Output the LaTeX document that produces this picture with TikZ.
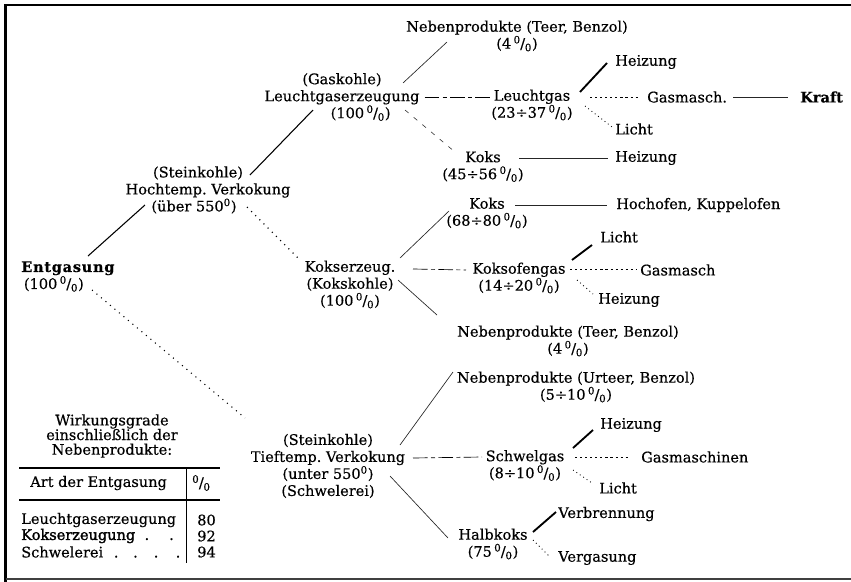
\documentclass[tikz,border=0pt]{standalone}
\usepackage{fontspec}
\setmainfont{DejaVu Serif}[FakeBold=0.5]
\newcommand\fs{\fontsize{10.9}{12.75}\selectfont}
\newcommand\prc{\textsuperscript{0}\kern-0.4pt/\kern-0.2pt\textsubscript{0}}
\begin{document}
\begin{tikzpicture}[x=0.75pt,y=-0.75pt,
  every node/.style={inner sep=0pt, font=\fs, align=center},
  lft/.style={anchor=west},
  thinln/.style={line width=0.5pt, black!85},
  midln/.style={line width=0.8pt},
  heavyln/.style={line width=1.4pt},
  dotln/.style={line width=0.8pt, dash pattern=on 0.8pt off 3.6pt},
  dotfine/.style={line width=0.6pt, dash pattern=on 0.7pt off 2.4pt},
  shortdash/.style={line width=0.5pt, dash pattern=on 1.6pt off 2.2pt},
  dashdot/.style={line width=0.5pt, dash pattern=on 11pt off 2.5pt on 3pt off 2.5pt},
  loosedash/.style={line width=0.45pt, black!80, dash pattern=on 3.5pt off 5pt},
  rule/.style={line width=1.6pt}]
\useasboundingbox (0,0) rectangle (851,582);
% frame
\draw[line width=1.9pt] (5.5,582) -- (5.5,5) -- (851,5);
\draw[line width=0.9pt, black!75] (5.5,579) -- (851,579);

% nodes
\node (ent) [lft, align=left] at (21,276.5) {{\bfseries\addfontfeature{LetterSpace=5}Entgasung}\\\hspace*{2pt}(100\,\prc)};
\node (hoch) at (208,190) {(Steinkohle)\hspace*{15pt}\\Hochtemp.\ Verkokung\\(über 550\textsuperscript{0})\hspace*{21pt}};
\node (lge) at (342,97) {(Gaskohle)\\Leuchtgaserzeugung\\\hspace*{28pt}(100\,\prc)};
\node (np1) at (517,36) {Nebenprodukte (Teer, Benzol)\\(4\,\prc)};
\node (lg) at (532,105) {Leuchtgas\\(23÷37\,\prc)};
\node (hz1) [lft] at (615,62) {Heizung};
\node (gm1) [lft] at (647,97) {Gasmasch.};
\node (kraft) [lft] at (800,97) {\bfseries Kraft};
\node (li1) [lft] at (615,129) {Licht};
\node (koks1) at (483,166.5) {Koks\\(45÷56\,\prc)};
\node (hz2) [lft] at (615,158) {Heizung};
\node (kserz) at (350,284.5) {Kokserzeug.\\(Kokskohle)\\(100\,\prc)};
\node (koks2) at (487,213) {Koks\\(68÷80\,\prc)};
\node (hochofen) [lft] at (616,205) {Hochofen, Kuppelofen};
\node (li2) [lft] at (600,237) {Licht};
\node (kog) at (519,278) {Koksofengas\\(14÷20\,\prc)};
\node (gm2) [lft] at (640,270) {Gasmasch};
\node (hz3) [lft] at (598,300) {Heizung};
\node (np2) at (568,341) {Nebenprodukte (Teer, Benzol)\\(4\,\prc)};
\node (np3) at (576,387) {Nebenprodukte (Urteer, Benzol)\\(5÷10\,\prc)};
\node (tief) at (328,466) {(Steinkohle)\\Tieftemp.\ Verkokung\\(unter 550\textsuperscript{0})\\(Schwelerei)};
\node (hz4) [lft] at (600,425) {Heizung};
\node (swg) at (525,465.5) {Schwelgas\\(8÷10\,\prc)};
\node (gm3) [lft] at (641,457) {Gasmaschinen};
\node (li3) [lft] at (599,488) {Licht};
\node (hk) at (493,544) {Halbkoks\\(75\,\prc)};
\node (vb) [lft] at (558,514) {Verbrennung};
\node (vg) [lft] at (558,558) {Vergasung};

% connectors
\draw[midln] ([shift={(67,-20.5)}]ent.west) -- ([shift={(-63,15)}]hoch.center);
\draw[dotln] ([shift={(71,13.5)}]ent.west) -- ([shift={(-83,-48)}]tief.center);
\draw[midln] ([shift={(42,-15)}]hoch.center) -- ([shift={(-29,13)}]lge.center);
\draw[dotln] ([shift={(39,17)}]hoch.center) -- ([shift={(-52,-26.5)}]kserz.center);
\draw[thinln] ([shift={(61,-14)}]lge.center) -- ([shift={(-70,6)}]np1.center);
\draw[dashdot] ([shift={(5,0)}]lge.east) -- ([shift={(-42,-8)}]lg.center);
\draw[loosedash] ([shift={(63,13)}]lge.center) -- ([shift={(-28,-14.5)}]koks1.center);
\draw[heavyln] ([shift={(48,-13)}]lg.center) -- ([shift={(-8,1)}]hz1.west);
\draw[shortdash] ([shift={(58,-8)}]lg.center) -- ([shift={(-7,0)}]gm1.west);
\draw[dotfine] ([shift={(53,1)}]lg.center) -- ([shift={(-3,-2)}]li1.west);
\draw[thinln] ([shift={(6,0)}]gm1.east) -- ([shift={(-12,0)}]kraft.west);
\draw[thinln] ([shift={(36,-8.5)}]koks1.center) -- ([shift={(-7,0)}]hz2.west);
\draw[thinln] ([shift={(28,-8)}]koks2.center) -- ([shift={(-9,0)}]hochofen.west);
\draw[thinln] ([shift={(50,-26.5)}]kserz.center) -- ([shift={(-38,-2)}]koks2.center);
\draw[dashdot] ([shift={(63,-15.5)}]kserz.center) -- ([shift={(-53,-8)}]kog.center);
\draw[thinln] ([shift={(48,-4.5)}]kserz.center) -- ([shift={(-131,-26)}]np2.center);
\draw[heavyln] ([shift={(53,-18)}]kog.center) -- ([shift={(-8,8)}]li2.west);
\draw[shortdash] ([shift={(51,-9)}]kog.center) -- ([shift={(-4,-1)}]gm2.west);
\draw[dotfine] ([shift={(58,2)}]kog.center) -- ([shift={(-5,-6)}]hz3.west);
\draw[thinln] ([shift={(72,-21)}]tief.center) -- ([shift={(-123,-15)}]np3.center);
\draw[dashdot] ([shift={(85,-8)}]tief.center) -- ([shift={(-43,-8.5)}]swg.center);
\draw[thinln] ([shift={(62,10)}]tief.center) -- ([shift={(-45,-6)}]hk.center);
\draw[heavyln] ([shift={(48,-17.5)}]swg.center) -- ([shift={(-7,5)}]hz4.west);
\draw[shortdash] ([shift={(50,-8.5)}]swg.center) -- ([shift={(-11,0)}]gm3.west);
\draw[dotfine] ([shift={(48,4.5)}]swg.center) -- ([shift={(-7,-5)}]li3.west);
\draw[heavyln] ([shift={(40,-12)}]hk.center) -- ([shift={(-2,-2)}]vb.west);
\draw[dotfine] ([shift={(40,-4)}]hk.center) -- ([shift={(-8,-1)}]vg.west);

% table
\node (wt) [font=\fontsize{10.9}{11}\selectfont] at (112,436) {Wirkungsgrade\\einschließlich der\\Nebenprodukte:};
\draw[rule] (19,468) -- (220,468);
\draw[rule] (19,500) -- (220,500);
\draw[line width=0.4pt] (186,468) -- (186,563);
\node (hdr) [lft] at (30,483) {Art der Entgasung};
\node (hpc) [lft] at (192,483) {\prc};
\node (r1) [lft] at (21,520) {Leuchtgaserzeugung};
\node (r2) [lft] at (21,536) {{\addfontfeature{FakeBold=1.8}Kokserzeugung}\hspace{7pt}.\hspace{15pt}.};
\node (r3) [lft] at (21,552) {Schwelerei\hspace{8pt}.\hspace{11pt}.\hspace{12pt}.\hspace{13pt}.};
\node (v1) [lft] at (197,520) {80};
\node (v2) [lft] at (197,536) {92};
\node (v3) [lft] at (197,552) {94};
\end{tikzpicture}
\end{document}
